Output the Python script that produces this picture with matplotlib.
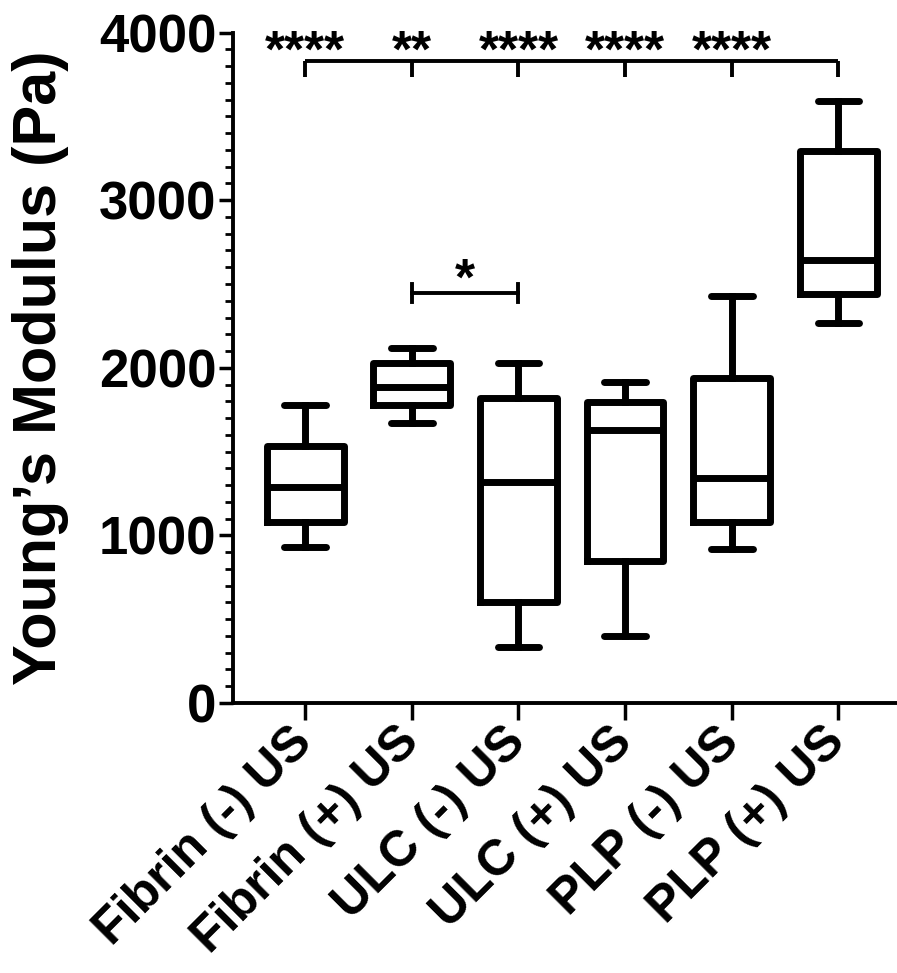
import matplotlib
matplotlib.use('Agg')
import matplotlib.pyplot as plt
from matplotlib.ticker import MultipleLocator

plt.rcParams['font.family'] = ['Liberation Sans', 'DejaVu Sans']
plt.rcParams['font.weight'] = 'bold'

groups = ['Fibrin (-) US', 'Fibrin (+) US', 'ULC (-) US', 'ULC (+) US', 'PLP (-) US', 'PLP (+) US']
whis_lo = [929, 1670, 336, 400, 919, 2270]
q1 = [1082, 1779, 605, 850, 1082, 2442]
med = [1291, 1888, 1321, 1630, 1341, 2645]
q3 = [1536, 2028, 1818, 1795, 1938, 3296]
whis_hi = [1779, 2117, 2028, 1918, 2426, 3590]
top_stars = ['****', '**', '****', '****', '****']

stats = []
for i in range(len(groups)):
    stats.append({'med': med[i], 'q1': q1[i], 'q3': q3[i],
                  'whislo': whis_lo[i], 'whishi': whis_hi[i], 'fliers': []})

fig = plt.figure(figsize=(8.97, 9.73), dpi=100)
ax = fig.add_axes([0.26, 0.2775, 0.74, 0.689])

lw = 5
ax.bxp(stats, positions=range(6), widths=0.72, capwidths=0.39, showfliers=False,
       boxprops=dict(linewidth=lw, color='black', solid_joinstyle='round'),
       medianprops=dict(linewidth=lw, color='black'),
       whiskerprops=dict(linewidth=lw, color='black'),
       capprops=dict(linewidth=lw, color='black', solid_capstyle='round'))

# top comparison bracket against PLP (+) US
ax.plot([0, 5], [3829, 3829], color='black', lw=2.8, solid_capstyle='butt')
for i in range(6):
    ax.plot([i, i], [3736, 3829], color='black', lw=2.8, solid_capstyle='butt')
for i, s in enumerate(top_stars):
    ax.text(i, 3880, s, ha='center', va='center', fontsize=37, fontweight='bold')

# Fibrin (+) vs ULC (-)
ax.plot([1, 2], [2446, 2446], color='black', lw=2.8)
ax.plot([1, 1], [2390, 2500], color='black', lw=2.8)
ax.plot([2, 2], [2390, 2500], color='black', lw=2.8)
ax.text(1.5, 2515, '*', ha='center', va='center', fontsize=37, fontweight='bold')

ax.set_xlim(-0.675, 5.55)
ax.set_ylim(0, 4000)
ax.set_yticks([0, 1000, 2000, 3000, 4000])
ax.yaxis.set_minor_locator(MultipleLocator(100))
ax.set_xticks(range(6))
ax.set_xticklabels(groups, rotation=45, ha='right', va='center', rotation_mode='anchor', fontsize=36)
ax.tick_params(axis='y', labelsize=38, width=2.5, length=10, pad=2)
ax.tick_params(axis='x', width=2.5, length=12, pad=11)
ax.tick_params(axis='y', which='minor', width=2, length=6)
ax.set_ylabel('Young\u2019s Modulus (Pa)', fontsize=44, fontweight='bold')
ax.yaxis.set_label_coords(-0.248, 0.5)

for side in ['top', 'right']:
    ax.spines[side].set_visible(False)
for side in ['left', 'bottom']:
    ax.spines[side].set_linewidth(2.8)

fig.savefig('out.png', dpi=100)
